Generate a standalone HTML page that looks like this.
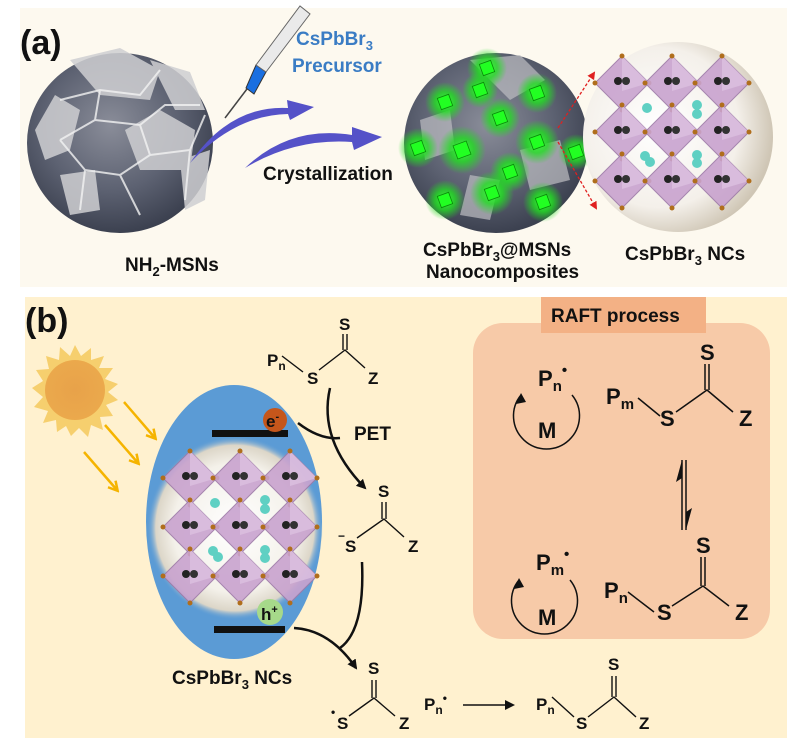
<!DOCTYPE html>
<html><head><meta charset="utf-8"><style>
html,body{margin:0;padding:0;background:#fff;}
svg{display:block;}
text{font-family:"Liberation Sans",sans-serif;font-weight:bold;}
</style></head><body>
<svg width="787" height="738" viewBox="0 0 787 738" xmlns="http://www.w3.org/2000/svg">
<defs>
<radialGradient id="gs" cx="0.45" cy="0.4" r="0.6"><stop offset="0" stop-color="#8a8d99"/><stop offset="0.6" stop-color="#5d6272"/><stop offset="1" stop-color="#3c4150"/></radialGradient>
<radialGradient id="wb" cx="0.4" cy="0.45" r="0.6"><stop offset="0" stop-color="#ffffff"/><stop offset="0.7" stop-color="#f4f0ea"/><stop offset="1" stop-color="#cfc6b5"/></radialGradient>
<radialGradient id="wg" cx="0.5" cy="0.5" r="0.5"><stop offset="0" stop-color="#fff"/><stop offset="0.7" stop-color="#f4f1ea"/><stop offset="0.9" stop-color="#dcd6c8"/><stop offset="1" stop-color="#5b9bd5" stop-opacity="0"/></radialGradient>
<radialGradient id="gg" cx="0.5" cy="0.5" r="0.5"><stop offset="0" stop-color="#3cff3c"/><stop offset="0.5" stop-color="#22dd22" stop-opacity="0.8"/><stop offset="1" stop-color="#22dd22" stop-opacity="0"/></radialGradient>
<radialGradient id="sun" cx="0.5" cy="0.5" r="0.5"><stop offset="0" stop-color="#e8a24a"/><stop offset="1" stop-color="#eba94c"/></radialGradient>
<g id="dia">
<polygon points="0,-27 27,0 0,27 -27,0" fill="#c9a3cf" stroke="#9e7aa8" stroke-width="1" opacity="0.9"/>
<polygon points="0,-27 27,0 0,8" fill="#dcc0e0" opacity="0.8"/>
<circle cx="-4" cy="-2" r="4" fill="#222"/><circle cx="4" cy="-2" r="4" fill="#333"/>
<circle cx="0" cy="-27" r="2.5" fill="#b06e1c"/><circle cx="27" cy="0" r="2.5" fill="#b06e1c"/><circle cx="0" cy="27" r="2.5" fill="#b06e1c"/><circle cx="-27" cy="0" r="2.5" fill="#b06e1c"/>
</g>
<g id="cry">
<use href="#dia" x="0" y="0"/><use href="#dia" x="50" y="0"/><use href="#dia" x="100" y="0"/>
<use href="#dia" x="0" y="49"/><use href="#dia" x="50" y="49"/><use href="#dia" x="100" y="49"/>
<use href="#dia" x="0" y="98"/><use href="#dia" x="50" y="98"/><use href="#dia" x="100" y="98"/>
<circle cx="25" cy="25" r="5" fill="#5fd0c3"/><circle cx="75" cy="22" r="5" fill="#5fd0c3"/><circle cx="75" cy="31" r="5" fill="#5fd0c3"/>
<circle cx="23" cy="73" r="5" fill="#5fd0c3"/><circle cx="28" cy="79" r="5" fill="#5fd0c3"/><circle cx="75" cy="72" r="5" fill="#5fd0c3"/><circle cx="75" cy="80" r="5" fill="#5fd0c3"/>
</g>
<marker id="ah" markerWidth="10" markerHeight="10" refX="8" refY="5" orient="auto" markerUnits="userSpaceOnUse"><path d="M0,0 L10,5 L0,10 Z" fill="#111"/></marker>
<marker id="oa" markerWidth="12" markerHeight="12" refX="9" refY="6" orient="auto" markerUnits="userSpaceOnUse"><path d="M1,1 L10,6 L1,11" fill="none" stroke="#f5b400" stroke-width="2.5"/></marker>
<marker id="ra" markerWidth="8" markerHeight="8" refX="6" refY="4" orient="auto" markerUnits="userSpaceOnUse"><path d="M0,0 L8,4 L0,8 Z" fill="#e02020"/></marker>
</defs>

<!-- Panel a -->
<rect x="20" y="8" width="767" height="279" fill="#fdf9ef"/>
<text x="20" y="54" font-size="34" fill="#111" font-weight="bold">(a)</text>
<!-- left sphere -->
<ellipse cx="120" cy="143" rx="93" ry="90" fill="url(#gs)"/>
<g fill="#cfcfd2" opacity="0.85">
<polygon points="70,60 120,48 160,70 150,100 100,95"/>
<polygon points="150,60 190,72 205,110 175,110 160,80"/>
<polygon points="35,130 55,95 80,110 70,150 45,160"/>
<polygon points="125,130 160,110 195,130 190,170 140,170"/>
<polygon points="180,160 210,150 205,200 185,210"/>
<polygon points="60,175 95,170 100,210 70,215"/>
</g>
<g stroke="#f2f2f2" stroke-width="2" fill="none" opacity="0.8">
<path d="M60,100 L100,90 L140,95 L160,70 M100,90 L95,120 L60,140 M95,120 L140,125 L150,155 L120,175 L85,170 L60,140 M150,155 L190,150 L205,115 M140,125 L165,105 L200,105 M85,170 L80,210 M120,175 L140,215 M190,150 L185,200"/>
</g>
<!-- syringe -->
<line x1="225" y1="118" x2="250" y2="85" stroke="#444" stroke-width="1.5"/>
<polygon points="246,88 256,65 266,72 254,94" fill="#1a6fe0" stroke="#333" stroke-width="1"/>
<polygon points="256,65 300,6 310,14 266,72" fill="#eaeaea" stroke="#666" stroke-width="1"/>
<text x="296" y="45" font-size="19" fill="#3a7cc4">CsPbBr<tspan font-size="13" dy="5">3</tspan></text>
<text x="292" y="72" font-size="19" fill="#3a7cc4">Precursor</text>
<!-- arrows -->
<path d="M190,163 Q230,105 288,108 L287,100 L314,107 L290,120 L288,114 Q235,115 190,163 Z" fill="#5552c8"/>
<path d="M245,168 Q290,125 352,135 L352,127 L382,137 L354,150 L352,142 Q295,138 245,168 Z" fill="#5552c8"/>
<text x="263" y="180" font-size="19" fill="#111">Crystallization</text>
<text x="125" y="271" font-size="19" fill="#111">NH<tspan font-size="13" dy="5">2</tspan><tspan dy="-5">-MSNs</tspan></text>
<!-- middle sphere -->
<ellipse cx="496" cy="143" rx="92" ry="90" fill="url(#gs)"/>
<g fill="#bdbdc2" opacity="0.7">
<polygon points="470,60 520,55 545,80 510,100"/>
<polygon points="420,120 450,110 455,150 425,160"/>
<polygon points="520,150 560,140 570,180 530,190"/>
<polygon points="470,175 500,180 490,220 460,215"/>
</g>
<g>
<circle cx="445" cy="102" r="20" fill="url(#gg)"/><circle cx="487" cy="68" r="20" fill="url(#gg)"/><circle cx="480" cy="90" r="18" fill="url(#gg)"/>
<circle cx="537" cy="93" r="20" fill="url(#gg)"/><circle cx="500" cy="118" r="20" fill="url(#gg)"/><circle cx="462" cy="150" r="24" fill="url(#gg)"/>
<circle cx="537" cy="142" r="22" fill="url(#gg)"/><circle cx="576" cy="152" r="18" fill="url(#gg)"/><circle cx="418" cy="148" r="20" fill="url(#gg)"/>
<circle cx="510" cy="172" r="20" fill="url(#gg)"/><circle cx="445" cy="200" r="20" fill="url(#gg)"/><circle cx="492" cy="193" r="22" fill="url(#gg)"/>
<circle cx="543" cy="202" r="20" fill="url(#gg)"/>
</g>
<g fill="#22ff22" stroke="#0a8a0a" stroke-width="0.8">
<rect x="439" y="96" width="12" height="12" transform="rotate(-20 445 102)"/><rect x="481" y="62" width="12" height="12" transform="rotate(-20 487 68)"/><rect x="474" y="84" width="12" height="12" transform="rotate(-20 480 90)"/>
<rect x="531" y="87" width="12" height="12" transform="rotate(-20 537 93)"/><rect x="494" y="112" width="12" height="12" transform="rotate(-20 500 118)"/><rect x="455" y="143" width="14" height="14" transform="rotate(-20 462 150)"/>
<rect x="531" y="136" width="12" height="12" transform="rotate(-20 537 142)"/><rect x="570" y="146" width="12" height="12" transform="rotate(-20 576 152)"/><rect x="412" y="142" width="12" height="12" transform="rotate(-20 418 148)"/>
<rect x="504" y="166" width="12" height="12" transform="rotate(-20 510 172)"/><rect x="439" y="194" width="12" height="12" transform="rotate(-20 445 200)"/><rect x="486" y="187" width="12" height="12" transform="rotate(-20 492 193)"/>
<rect x="537" y="196" width="12" height="12" transform="rotate(-20 543 202)"/>
</g>
<text x="423" y="256" font-size="19" fill="#111">CsPbBr<tspan font-size="13" dy="5">3</tspan><tspan dy="-5">@MSNs</tspan></text>
<text x="426" y="278" font-size="19" fill="#111">Nanocomposites</text>
<!-- right sphere -->
<circle cx="678" cy="137" r="95" fill="url(#wb)"/>
<use href="#cry" x="622" y="83"/>
<line x1="558" y1="128" x2="594" y2="73" stroke="#e02020" stroke-width="1.3" stroke-dasharray="3,2" marker-end="url(#ra)"/>
<line x1="558" y1="142" x2="596" y2="208" stroke="#e02020" stroke-width="1.3" stroke-dasharray="3,2" marker-end="url(#ra)"/>
<text x="625" y="260" font-size="19" fill="#111">CsPbBr<tspan font-size="13" dy="5">3</tspan><tspan dy="-5"> NCs</tspan></text>

<!-- Panel b -->
<rect x="25" y="297" width="762" height="441" fill="#fff1cf"/>
<text x="25" y="332" font-size="34" fill="#111">(b)</text>
<rect x="473" y="323" width="297" height="316" rx="30" fill="#f7caa8"/>
<rect x="541" y="297" width="165" height="36" fill="#f3b185"/>
<text x="551" y="322" font-size="19" fill="#111">RAFT process</text>
<!-- sun -->
<g transform="translate(75 390)">
<polygon points="0,-45 6,-34 16,-42 16,-30 29,-34 24,-22 38,-22 30,-11 43,-6 33,2 43,10 31,15 38,26 25,27 28,40 16,35 13,47 4,38 -4,46 -9,36 -18,42 -19,30 -32,33 -27,21 -41,17 -32,7 -43,-2 -32,-9 -39,-20 -26,-21 -29,-34 -16,-30 -15,-43 -5,-34" fill="#f6cf6e"/>
<circle r="30" fill="url(#sun)"/>
</g>
<line x1="124" y1="402" x2="155" y2="438" stroke="#f5b400" stroke-width="2.5" marker-end="url(#oa)"/>
<line x1="105" y1="425" x2="138" y2="463" stroke="#f5b400" stroke-width="2.5" marker-end="url(#oa)"/>
<line x1="84" y1="452" x2="117" y2="490" stroke="#f5b400" stroke-width="2.5" marker-end="url(#oa)"/>
<!-- ellipse -->
<ellipse cx="234" cy="522" rx="88" ry="137" fill="#5b9bd5"/>
<ellipse cx="235" cy="528" rx="88" ry="92" fill="url(#wg)"/>
<use href="#cry" x="190" y="478"/>
<rect x="212" y="430" width="76" height="7" fill="#111"/>
<rect x="214" y="626" width="71" height="7" fill="#111"/>
<circle cx="275" cy="420" r="12" fill="#c5561b"/>
<text x="266" y="427" font-size="17" fill="#111">e<tspan font-size="11" dy="-7">-</tspan></text>
<circle cx="270" cy="612" r="13" fill="#a6d98a"/>
<text x="261" y="620" font-size="17" fill="#111">h<tspan font-size="11" dy="-7">+</tspan></text>
<text x="172" y="684" font-size="19" fill="#111">CsPbBr<tspan font-size="13" dy="5">3</tspan><tspan dy="-5"> NCs</tspan></text>
<!-- curved arrows -->
<path d="M330,388 Q318,440 365,488" fill="none" stroke="#111" stroke-width="2.5" marker-end="url(#ah)"/>
<path d="M298,423 Q320,440 340,438" fill="none" stroke="#111" stroke-width="2.5"/>
<path d="M362,562 Q365,630 340,648" fill="none" stroke="#111" stroke-width="2.5"/>
<path d="M294,628 Q330,630 356,668" fill="none" stroke="#111" stroke-width="2.5" marker-end="url(#ah)"/>
<text x="354" y="440" font-size="19" fill="#111">PET</text>
<g font-size="17" fill="#111" stroke="none">
<text x="339" y="330">S</text>
<text x="267" y="366">P<tspan font-size="12" dy="4">n</tspan></text>
<text x="307" y="384">S</text>
<text x="368" y="384">Z</text>
<text x="378" y="497">S</text>
<text x="345" y="552">S</text><text x="338" y="540" font-size="12">−</text>
<text x="408" y="552">Z</text>
<text x="368" y="674">S</text>
<text x="337" y="729">S</text><text x="331" y="716" font-size="12">•</text>
<text x="399" y="729">Z</text>
<text x="424" y="710">P<tspan font-size="12" dy="4">n</tspan><tspan font-size="12" dy="-12">•</tspan></text>
<text x="536" y="710">P<tspan font-size="12" dy="4">n</tspan></text>
<text x="608" y="670">S</text>
<text x="576" y="729">S</text>
<text x="639" y="729">Z</text>
</g>
<g stroke="#111" stroke-width="1.4" fill="none">
<path d="M319,370 L345,350 L365,368 M343,334 L343,350 M347,334 L347,350"/>
<path d="M282,356 L303,372"/>
<path d="M357,538 L384,519 L404,537 M382,502 L382,519 M386,502 L386,519"/>
<path d="M349,716 L374,698 L395,716 M372,680 L372,698 M376,680 L376,698"/>
<path d="M552,697 L574,717 M588,717 L614,697 L636,717 M612,676 L612,697 M616,676 L616,697"/>
</g>
<line x1="463" y1="705" x2="513" y2="705" stroke="#111" stroke-width="1.4" marker-end="url(#ah)"/>
<g font-size="22" fill="#111">
<text x="538" y="386">P<tspan font-size="15" dy="5">n</tspan><tspan font-size="15" dy="-16">•</tspan></text>
<text x="538" y="438">M</text>
<text x="606" y="404">P<tspan font-size="15" dy="5">m</tspan></text>
<text x="660" y="426">S</text>
<text x="700" y="360">S</text>
<text x="739" y="426">Z</text>
<text x="536" y="570">P<tspan font-size="15" dy="5">m</tspan><tspan font-size="15" dy="-16">•</tspan></text>
<text x="538" y="625">M</text>
<text x="604" y="598">P<tspan font-size="15" dy="5">n</tspan></text>
<text x="657" y="620">S</text>
<text x="696" y="553">S</text>
<text x="735" y="620">Z</text>
</g>
<g stroke="#111" stroke-width="1.5" fill="none">
<path d="M638,398 L660,416 M676,412 L707,390 L733,412 M705,364 L705,390 M709,364 L709,390"/>
<path d="M628,592 L654,612 M672,606 L703,586 L729,606 M701,557 L701,586 M705,557 L705,586"/>
<path d="M521,395 A33,33 0 1 0 572,395"/>
<path d="M519,580 A33,33 0 1 0 570,580"/>
<line x1="682" y1="460" x2="682" y2="530"/><line x1="686" y1="460" x2="686" y2="530"/>
</g>
<path d="M516,404 L521,393 L526,402 Z" fill="#111"/>
<path d="M514,589 L519,578 L524,587 Z" fill="#111"/>
<path d="M682,460 L676,482 L682,478 Z" fill="#111"/>
<path d="M686,530 L692,508 L686,512 Z" fill="#111"/>
</svg>
</body></html>
